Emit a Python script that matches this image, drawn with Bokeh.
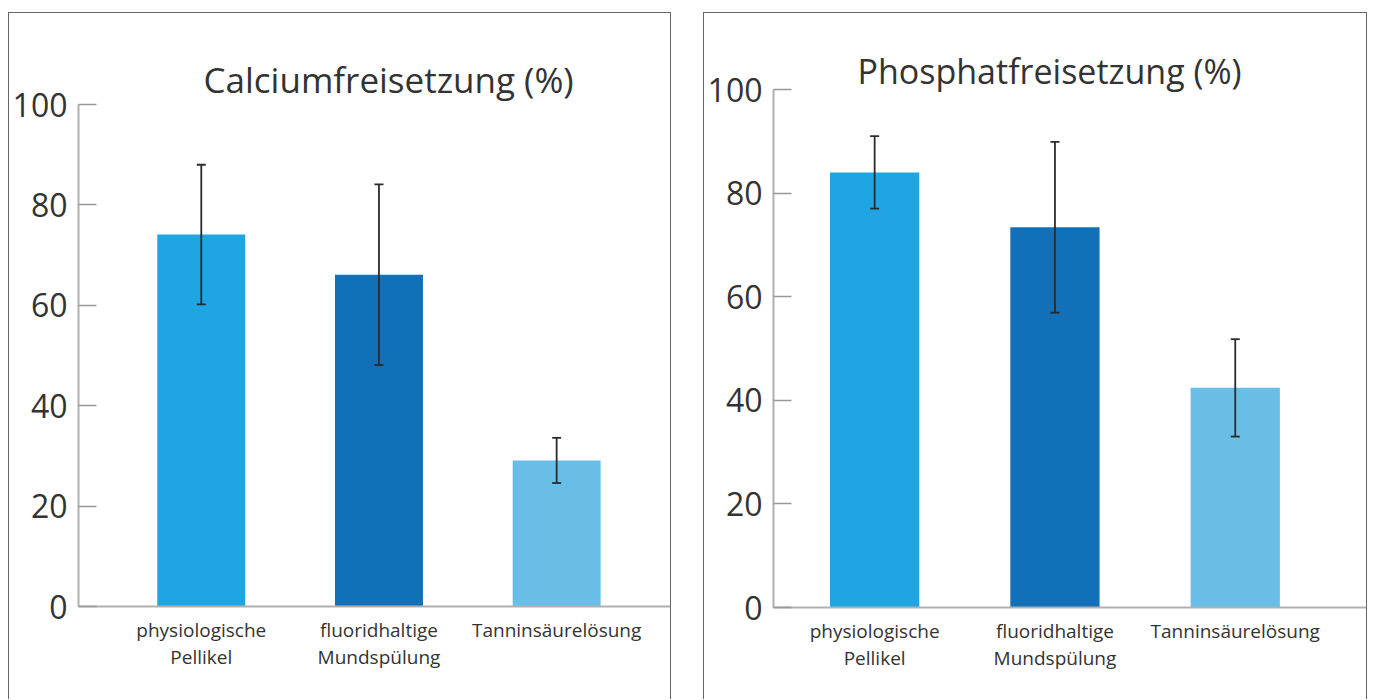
from bokeh.plotting import figure
from bokeh.models import ColumnDataSource, Whisker, TeeHead, Range1d, FixedTicker, Title
from bokeh.embed import file_html
from bokeh.resources import INLINE

categories = ["physiologische\nPellikel", "fluoridhaltige\nMundspülung", "Tanninsäurelösung"]
calcium_mean = [74.1, 66.1, 29.1]
calcium_err = [13.9, 18.0, 4.5]
phosphat_mean = [84.0, 73.4, 42.4]
phosphat_err = [7.0, 16.5, 9.4]
bar_colors = ["#1ea5e2", "#1170b7", "#69bee8"]
y_ticks = [0, 20, 40, 60, 80, 100]

FONT = "Open Sans"


def make_panel(title, means, errs, width, top, frame_h, x_start, x_end, title_offset,
               title_size, title_standoff, page_left):
    height = 687
    p = figure(width=width, height=height, output_backend="svg", toolbar_location=None,
               x_range=Range1d(x_start, x_end), y_range=Range1d(0, 100),
               min_border_left=69, min_border_right=0, min_border_top=top,
               min_border_bottom=height - top - frame_h)
    p.title = Title(text=title, align="left", offset=title_offset, text_font=FONT,
                    text_font_size=title_size, text_font_style="normal", text_color="#333333",
                    standoff=title_standoff)
    xs = list(range(len(categories)))
    src = ColumnDataSource(dict(x=xs, top=means, color=bar_colors,
                                upper=[m + e for m, e in zip(means, errs)],
                                lower=[m - e for m, e in zip(means, errs)]))
    p.vbar(x="x", top="top", bottom=0, width=0.495, fill_color="color", line_color=None, source=src)
    w = Whisker(source=src, base="x", upper="upper", lower="lower", line_color="#2b2b2b",
                line_width=1.8, level="overlay",
                upper_head=TeeHead(size=9, line_color="#2b2b2b", line_width=1.8),
                lower_head=TeeHead(size=9, line_color="#2b2b2b", line_width=1.8))
    p.add_layout(w)

    p.xgrid.visible = False
    p.ygrid.visible = False
    p.outline_line_color = None

    ya = p.yaxis[0]
    ya.ticker = FixedTicker(ticks=y_ticks)
    ya.axis_line_color = "#b0b0b0"
    ya.axis_line_width = 2
    ya.major_tick_in = 18
    ya.major_tick_out = 0
    ya.major_tick_line_color = "#999999"
    ya.major_tick_line_width = 1.5
    ya.minor_tick_line_color = None
    ya.major_label_text_font = FONT
    ya.major_label_text_font_size = "32px"
    ya.major_label_text_color = "#333333"
    ya.major_label_standoff = 11

    xa = p.xaxis[0]
    xa.ticker = FixedTicker(ticks=xs)
    xa.major_label_overrides = {i: c for i, c in enumerate(categories)}
    xa.axis_line_color = "#b0b0b0"
    xa.axis_line_width = 2
    xa.major_tick_line_color = None
    xa.minor_tick_line_color = None
    xa.major_label_text_font = FONT
    xa.major_label_text_font_size = "19px"
    xa.major_label_text_color = "#333333"
    xa.major_label_text_line_height = 1.05
    xa.major_label_standoff = 4

    p.styles = {"position": "absolute", "left": f"{page_left}px", "top": "12px",
                "border-top": "1px solid #666666", "border-left": "1px solid #666666",
                "border-right": "1px solid #666666"}
    return p


left = make_panel("Calciumfreisetzung (%)", calcium_mean, calcium_err, 663, 91, 502,
                  -0.691, 2.652, 125, "35px", 3, 8)
right = make_panel("Phosphatfreisetzung (%)", phosphat_mean, phosphat_err, 664, 76, 518,
                   -0.561, 2.739, 84, "34px", -8, 703)

open("out.html", "w").write(file_html([left, right], INLINE))
